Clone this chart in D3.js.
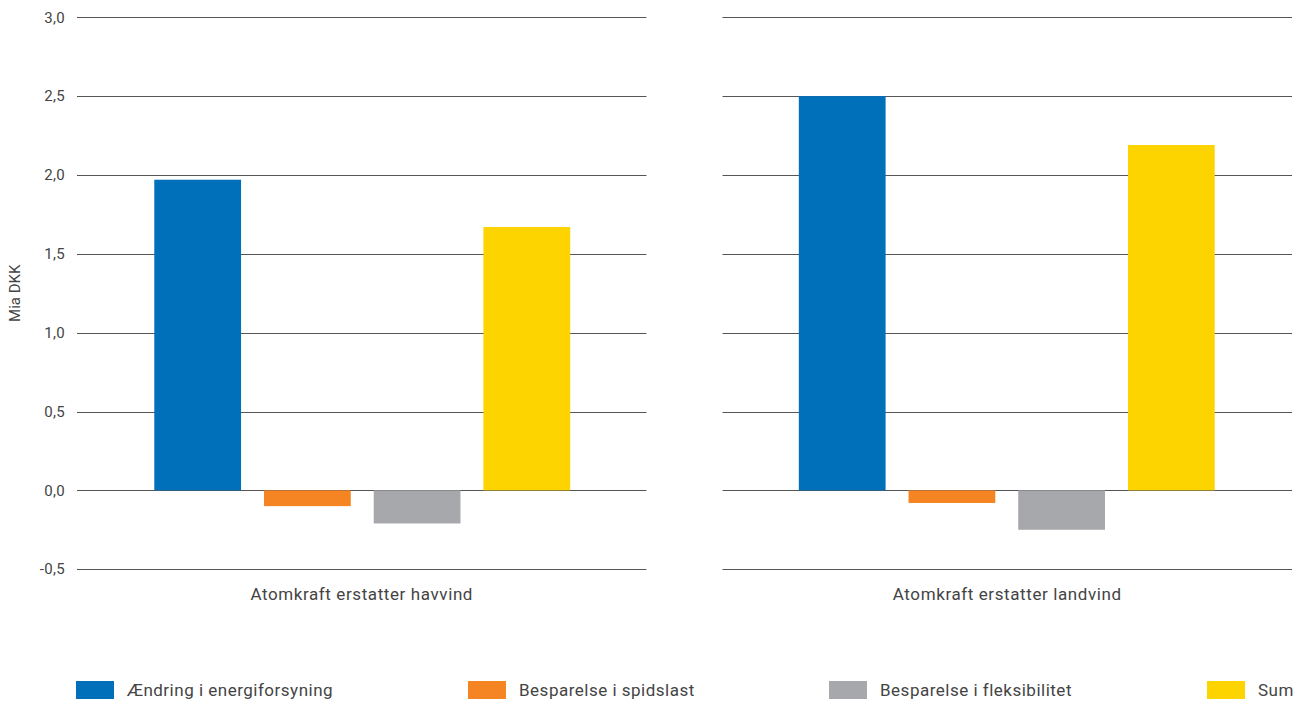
<!DOCTYPE html>
<html><head><meta charset="utf-8">
<script src="https://cdn.jsdelivr.net/npm/d3@7"></script>
<style>
html,body{margin:0;padding:0;background:#fff;}
text{font-family:Roboto,"Noto Sans",sans-serif;fill:#444;}
</style></head>
<body><svg id="c" width="1306" height="704"></svg>
<script>
const panels = ["Atomkraft erstatter havvind", "Atomkraft erstatter landvind"];
const series = ["Ændring i energiforsyning", "Besparelse i spidslast", "Besparelse i fleksibilitet", "Sum"];
const colors = ["#0070BA", "#F58422", "#A7A8AB", "#FDD300"];
const valuesHavvind = [1.97, -0.10, -0.21, 1.67];
const valuesLandvind = [2.50, -0.08, -0.25, 2.19];
const yTicks = [-0.5, 0, 0.5, 1.0, 1.5, 2.0, 2.5, 3.0];
const panelValues = [valuesHavvind, valuesLandvind];

const svg = d3.select("#c");
const y = d3.scaleLinear().domain([-0.5, 3.0]).range([569.2, 17.3]);
const fmt = d => d3.format(".1f")(d).replace(".", ",").replace("−", "-");

const px = d3.scaleBand().domain(panels).range([77, 1292]).paddingInner(76/645);

// y tick labels
svg.append("g").selectAll("text").data(yTicks).join("text")
  .attr("x", 65).attr("y", d => y(d)).attr("dy", "0.35em")
  .attr("text-anchor", "end").style("font-size", "15px").style("letter-spacing", "0.3px").text(fmt);

svg.append("text").attr("transform", `translate(20,${y(1.25)}) rotate(-90)`)
  .attr("text-anchor", "middle").style("font-size", "15px").text("Mia DKK");

panels.forEach((p, i) => {
  const x0 = px(p), w = px.bandwidth();
  const g = svg.append("g");
  g.selectAll("line").data(yTicks).join("line")
    .attr("x1", x0).attr("x2", x0 + w)
    .attr("y1", d => Math.round(y(d)) + 0.5).attr("y2", d => Math.round(y(d)) + 0.5)
    .attr("stroke", "#555").attr("stroke-width", 1);
  const xb = d3.scaleBand().domain(series).range([x0, x0 + w]).paddingInner(23/110).paddingOuter(0.7);
  g.selectAll("rect").data(panelValues[i].map((v, j) => ({s: series[j], v, c: colors[j]}))).join("rect")
    .attr("x", d => xb(d.s) + (i === 0 ? 0.5 : -0.5)).attr("width", xb.bandwidth())
    .attr("y", d => y(Math.max(0, d.v))).attr("height", d => Math.abs(y(d.v) - y(0)))
    .attr("fill", d => d.c);
  g.append("text").attr("x", x0 + w / 2).attr("y", 600).attr("text-anchor", "middle")
    .style("font-size", "17px").style("letter-spacing", "0.6px").text(p);
});

// legend
const legendX = [76, 468, 829, 1207];
const lg = svg.append("g");
series.forEach((s, i) => {
  lg.append("rect").attr("x", legendX[i]).attr("y", 681).attr("width", 38).attr("height", 18).attr("fill", colors[i]);
  lg.append("text").attr("x", legendX[i] + 51).attr("y", 690).attr("dy", "0.35em")
    .style("font-size", "17px").style("letter-spacing", "0.5px").text(s);
});
</script></body></html>
